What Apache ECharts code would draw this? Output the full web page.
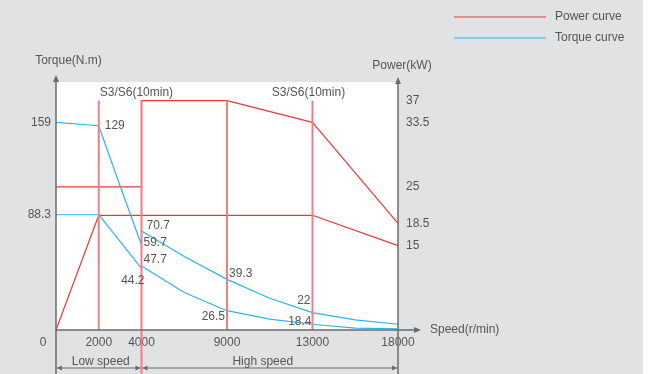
<!DOCTYPE html>
<html>
<head>
<meta charset="utf-8">
<script src="https://cdn.jsdelivr.net/npm/echarts@6/dist/echarts.min.js"></script>
<style>
  html, body { margin: 0; padding: 0; background: #fff; }
  #chart { width: 665px; height: 374px; background: linear-gradient(to right, #e1e2e4 643px, #fff 643px); }
</style>
</head>
<body>
<div id="chart"></div>
<script>
// speed axis of the sheet is piecewise (0-4000 stretched), so it is kept as categories
const speeds = ['0', '1000', '2000', '3000', '4000', '5250', '6500', '7750', '9000',
    '10000', '11000', '12000', '13000', '14250', '15500', '16750', '18000'];
const speedLabels = ['0', '2000', '4000', '9000', '13000', '18000'];
const refSpeeds = ['2000', '4000', '9000', '13000'];

// curves as drawn on the sheet (schematic levels)
const powerS3 = [['0', 23.1], ['4000', 23.1], ['4000', 37], ['9000', 37], ['13000', 33.5], ['18000', 17.2]];
const powerS1 = [['0', 0], ['2000', 18.5], ['13000', 18.5], ['18000', 13.6]];
const torqueS3 = [['0', 159], ['2000', 156.5], ['3000', 110.3], ['4000', 65.1], ['4000', 75.8], ['6500', 56.3],
    ['9000', 38.8], ['11000', 24.3], ['13000', 13.3], ['15500', 7.7], ['18000', 4.4]];
const torqueS1 = [['0', 88.3], ['2000', 88.3], ['4000', 47.3], ['4000', 49.0], ['6500', 28.7],
    ['9000', 14.8], ['11000', 8.3], ['13000', 4.4], ['15500', 1.5], ['18000', 0.8]];

// printed values next to the points
const torqueS3Notes = ['', '129', '', '59.7', '70.7', '', '39.3', '', '22', '', ''];
const torqueS1Notes = ['', '', '44.2', '47.7', '', '26.5', '', '18.4', '', ''];

const torqueTicks = [88.3, 159];
const powerTickLevels = [13.6, 17.2, 23.1, 33.5, 37];
const powerTickText = ['15', '18.5', '25', '33.5', '37'];

const RED = '#e8363b';
const PINK = '#f27c81';
const BLUE = '#2ab4ea';
const AXIS = '#6b6b6b';
const TEXT = '#555';
const FONT = 'Liberation Sans';

const chart = echarts.init(document.getElementById('chart'), null, { renderer: 'canvas' });

const lineSeries = (name, data, yAxisIndex, color) => ({
    name, type: 'line', data, yAxisIndex,
    symbol: 'none', z: 3,
    lineStyle: { color, width: 1.2 },
    itemStyle: { color },
});

chart.setOption({
    animation: false,
    textStyle: { fontFamily: FONT, color: TEXT, fontSize: 12 },
    legend: {
        orient: 'vertical', left: 449, top: 6,
        icon: 'rect', itemWidth: 92, itemHeight: 1, itemGap: 9,
        data: ['Power curve', 'Torque curve'],
        textStyle: { color: TEXT, fontSize: 12, fontFamily: FONT, padding: [0, 0, 0, 4] },
    },
    grid: { left: 56, right: 267, top: 82, bottom: 44, show: true, backgroundColor: '#fff', borderWidth: 0 },
    xAxis: {
        type: 'category', data: speeds, boundaryGap: false,
        axisLine: { show: false }, axisTick: { show: false }, splitLine: { show: false },
        axisLabel: {
            interval: (i, v) => speedLabels.includes(v),
            margin: 7, color: TEXT, fontSize: 12,
            formatter: (v) => (v === '0' ? '{z|0}' : v),
            rich: { z: { padding: [0, 26, 0, 0], color: TEXT, fontSize: 12, fontFamily: FONT } },
        },
        name: 'Speed(r/min)', nameLocation: 'end', nameGap: 32,
        nameTextStyle: { color: TEXT, fontSize: 12, verticalAlign: 'middle' },
    },
    yAxis: [
        {
            type: 'value', min: 0, max: 190, position: 'left',
            axisLine: { show: false }, axisTick: { show: false }, splitLine: { show: false },
            axisLabel: { customValues: torqueTicks, margin: 5, color: TEXT, fontSize: 12 },
            name: 'Torque(N.m)', nameLocation: 'end', nameGap: 15,
            nameTextStyle: { color: TEXT, fontSize: 12, padding: [0, 0, 0, 25] },
        },
        {
            type: 'value', min: 0, max: 40, position: 'right',
            axisLine: { show: false }, axisTick: { show: false }, splitLine: { show: false },
            axisLabel: {
                customValues: powerTickLevels, margin: 8, color: TEXT, fontSize: 12,
                formatter: (v) => powerTickText[powerTickLevels.indexOf(v)],
            },
            name: 'Power(kW)', nameLocation: 'end', nameGap: 10,
            nameTextStyle: { color: TEXT, fontSize: 12, padding: [0, 0, 0, 8] },
        },
    ],
    series: [
        lineSeries('Power curve', powerS3, 1, RED),
        lineSeries('Power curve', powerS1, 1, RED),
        lineSeries('Torque curve', torqueS3, 0, BLUE),
        lineSeries('Torque curve', torqueS1, 0, BLUE),
    ],
});

// overlay: axis lines with arrows, reference lines, speed ranges and printed values
const px = (si, point) => chart.convertToPixel({ seriesIndex: si }, point);
const H = chart.getHeight();
const [x0, y0] = px(2, ['0', 0]);
const xEnd = px(2, ['18000', 0])[0];
const x4000 = px(2, ['4000', 0])[0];
const yTop = px(2, ['0', 190])[1];

const g = [];
const seg = (xa, ya, xb, yb, stroke, lineWidth, z) =>
    g.push({ type: 'line', z, shape: { x1: xa, y1: ya, x2: xb, y2: yb }, style: { stroke, lineWidth } });
const tri = (pts, z) => g.push({ type: 'polygon', z, shape: { points: pts }, style: { fill: AXIS } });
const txt = (x, y, text, align, z) => g.push({
    type: 'text', z, x, y,
    style: { text, fill: TEXT, font: `12px "${FONT}"`, align, verticalAlign: 'middle' },
});

refSpeeds.forEach((s) => {
    const [x, y] = px(0, [s, 37]);
    seg(x, y, x, s === '4000' ? H : y0, PINK, 2, 4);
});

// axes
seg(x0, H, x0, yTop - 2, AXIS, 1.5, 5);
tri([[x0, yTop - 7], [x0 - 3, yTop], [x0 + 3, yTop]], 5);
seg(xEnd, H, xEnd, yTop - 2, AXIS, 1.5, 5);
tri([[xEnd, yTop - 5], [xEnd - 3, yTop + 2], [xEnd + 3, yTop + 2]], 5);
seg(x0, y0, xEnd + 17, y0, AXIS, 1.5, 5);
tri([[xEnd + 23, y0], [xEnd + 16, y0 - 3], [xEnd + 16, y0 + 3]], 5);

// low / high speed ranges
const yr = H - 6;
const range = (xa, xb, label, shift) => {
    seg(xa + 1, yr, xb - 1, yr, AXIS, 1, 5);
    tri([[xa + 1, yr], [xa + 6, yr - 2.5], [xa + 6, yr + 2.5]], 5);
    tri([[xb - 1, yr], [xb - 6, yr - 2.5], [xb - 6, yr + 2.5]], 5);
    txt((xa + xb) / 2 + shift, yr - 6.5, label, 'center', 6);
};
range(x0, x4000, 'Low speed', 2);
range(x4000, xEnd, 'High speed', -7);

// S3/S6 captions
const [c1x, c1y] = px(0, ['2000', 37]);
txt(c1x + 1, c1y - 8, 'S3/S6(10min)', 'left', 6);
const [c2x, c2y] = px(0, ['13000', 37]);
txt(c2x - 4, c2y - 8, 'S3/S6(10min)', 'center', 6);

// printed point values
const noteLayout = {
    '129': [6, 0, 'left'], '59.7': [2, -2, 'left'], '70.7': [5, -5, 'left'],
    '39.3': [2, -6, 'left'], '22': [-2, -12, 'right'],
    '44.2': [3, 12, 'right'], '47.7': [2, -6, 'left'], '26.5': [-2, 6, 'right'], '18.4': [-1, -3, 'right'],
};
const notes = (si, data, texts) => data.forEach((p, i) => {
    if (!texts[i]) return;
    const [x, y] = px(si, p);
    const [dx, dy, align] = noteLayout[texts[i]];
    txt(x + dx, y + dy, texts[i], align, 6);
});
notes(2, torqueS3, torqueS3Notes);
notes(3, torqueS1, torqueS1Notes);

chart.setOption({ graphic: g });
</script>
</body>
</html>
